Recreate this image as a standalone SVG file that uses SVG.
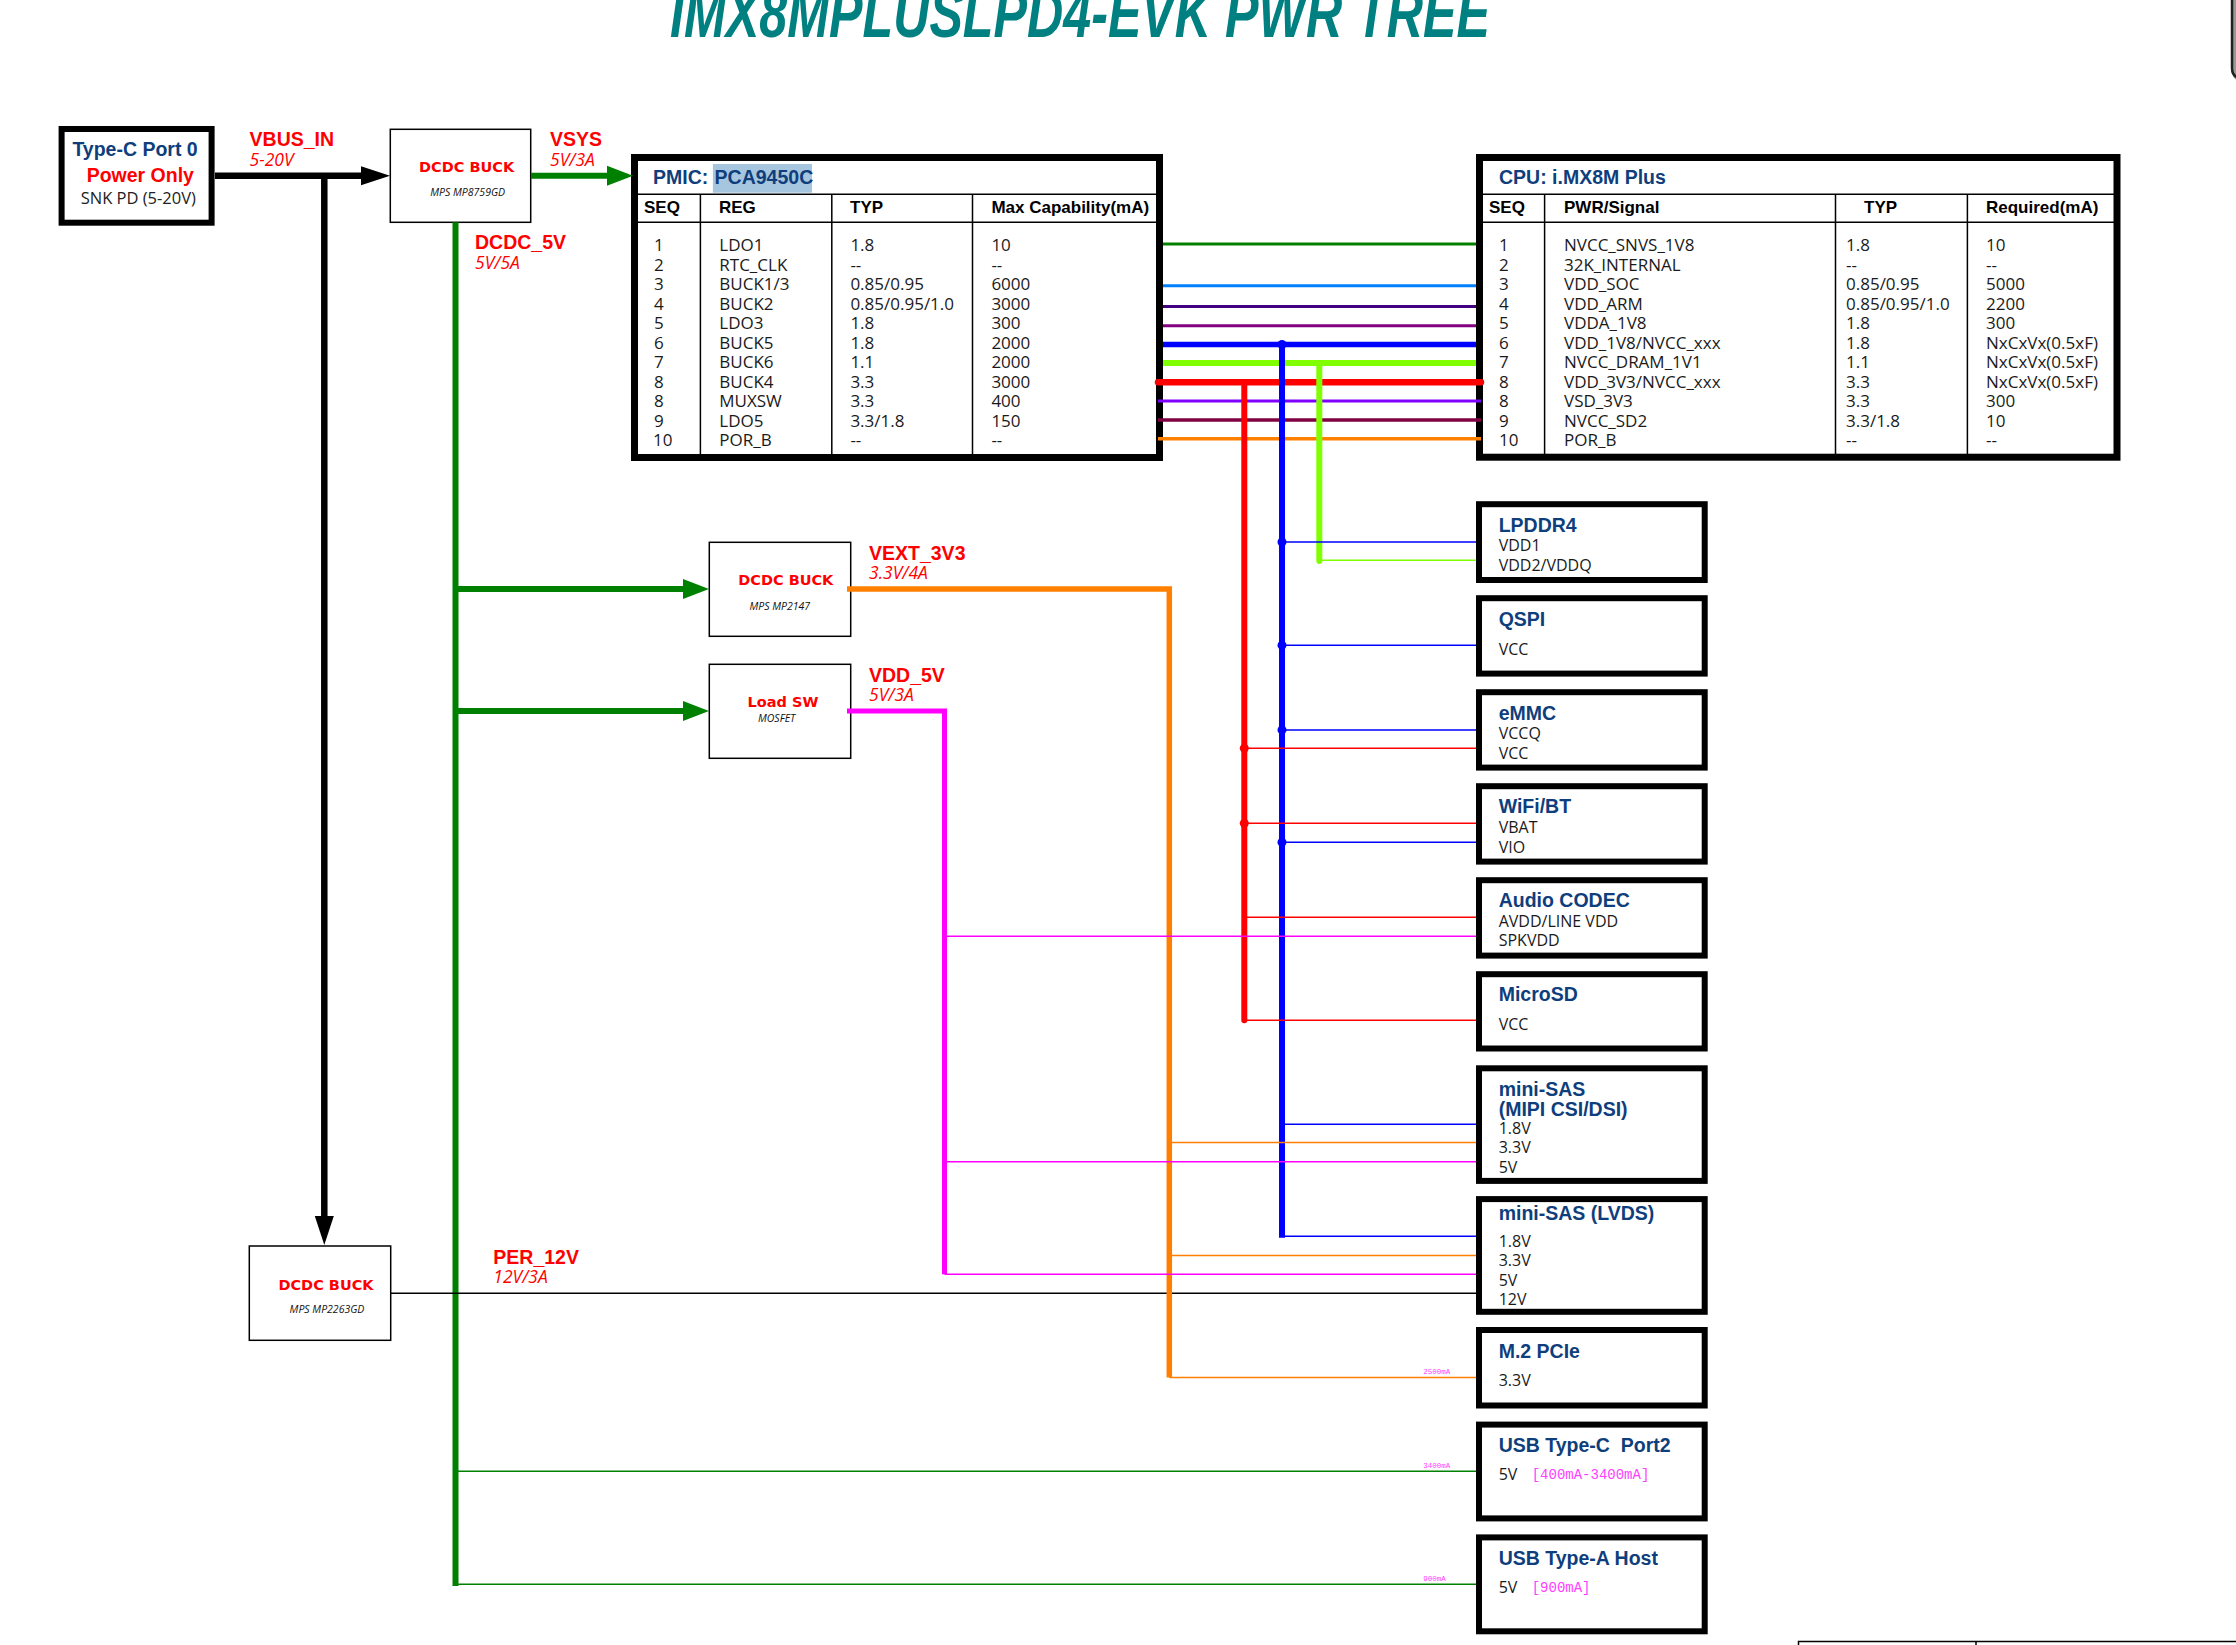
<svg xmlns="http://www.w3.org/2000/svg" width="2236" height="1645" viewBox="0 0 2236 1645">
<style>
.ttl{font-family:"Liberation Sans",Arial,sans-serif;font-weight:bold;font-size:19.5px;fill:#0f3e7c}
.lbl{font-family:"Liberation Sans",Arial,sans-serif;font-weight:bold;font-size:19.5px;fill:#ff0000}
.sub{font-family:"Open Sans",sans-serif;font-style:italic;font-size:17.5px;fill:#ff0000}
.body{font-family:"Open Sans",sans-serif;font-size:17px;fill:#1a1a1a}
.sig{font-family:"Open Sans",sans-serif;font-size:16px;fill:#1a1a1a}
.hdr{font-family:"Liberation Sans",Arial,sans-serif;font-weight:bold;font-size:17px;fill:#000}
.bxr{font-family:"DejaVu Sans",sans-serif;font-weight:bold;font-size:14.5px;fill:#ff0000;text-anchor:middle}
.bxi{font-family:"Open Sans",sans-serif;font-style:italic;font-size:10.5px;fill:#111;text-anchor:middle}
.mono{font-family:"Liberation Mono",monospace;font-size:14px;fill:#ff40ff}
.tiny{font-family:"Liberation Mono",monospace;font-size:7.5px;fill:#ff40ff}
.thick{fill:#fff;stroke:#000;stroke-width:6}
.thick7{fill:#fff;stroke:#000;stroke-width:7}
.thin{fill:#fff;stroke:#000;stroke-width:1.5}
.grid{fill:none;stroke:#000;stroke-width:1.5}
.br{fill:none;stroke-width:1.5}
</style>
<defs>
<marker id="ahK" markerUnits="userSpaceOnUse" markerWidth="30" markerHeight="22" refX="0" refY="11" orient="auto" viewBox="0 0 30 22"><path d="M0,1.5 L29,11 L0,20.5 z" fill="#000"/></marker>
<marker id="ahG" markerUnits="userSpaceOnUse" markerWidth="28" markerHeight="22" refX="0" refY="11" orient="auto" viewBox="0 0 28 22"><path d="M0,1 L26,11 L0,21 z" fill="#008000"/></marker>
</defs>

<text x="1080" y="37" text-anchor="middle" textLength="820" lengthAdjust="spacingAndGlyphs" font-family="Liberation Sans, Arial, sans-serif" font-weight="bold" font-style="italic" font-size="68" fill="#008080">IMX8MPLUSLPD4-EVK PWR TREE</text>
<path d="M2234,0 V68 Q2234,80 2246,80" fill="none" stroke="#999" stroke-width="5"/>
<path d="M2232,0 V68 Q2232,78 2242,78" fill="none" stroke="#222" stroke-width="2.5"/>
<path d="M1798.5,1645 V1641.4 H2236 M1976,1641.4 V1645" fill="none" stroke="#000" stroke-width="1.5"/>

<g id="typec">
<rect x="61.6" y="129" width="150" height="93.7" class="thick"/>
<text x="72.4" y="155.7" class="ttl">Type-C Port 0</text>
<text x="86.7" y="181.7" class="lbl">Power Only</text>
<text x="80.7" y="204.3" font-family="Open Sans, sans-serif" font-size="16.5" fill="#222">SNK PD (5-20V)</text>
</g>

<g id="buck_mp8759">
<rect x="390.3" y="129.3" width="140.4" height="93" class="thin"/>
<text x="466.6" y="172" class="bxr">DCDC BUCK</text>
<text x="467.7" y="196" class="bxi">MPS MP8759GD</text>
</g>

<g id="buck_mp2147">
<rect x="709.3" y="542.3" width="141.4" height="94" class="thin"/>
<text x="785.8" y="585" class="bxr">DCDC BUCK</text>
<text x="779.8" y="610" class="bxi">MPS MP2147</text>
</g>

<g id="loadsw">
<rect x="709.3" y="664.3" width="141.4" height="94" class="thin"/>
<text x="783" y="706.7" class="bxr">Load SW</text>
<text x="776.7" y="722.3" class="bxi">MOSFET</text>
</g>

<g id="buck_mp2263">
<rect x="249.3" y="1246" width="141.4" height="94.3" class="thin"/>
<text x="326" y="1290" class="bxr">DCDC BUCK</text>
<text x="327" y="1313.3" class="bxi">MPS MP2263GD</text>
</g>

<g id="pmic">
<rect x="634.5" y="157.5" width="525" height="300" class="thick7"/>
<rect x="712.9" y="164" width="99.1" height="28.7" fill="#a6c6df"/>
<text x="653" y="184.3" class="ttl">PMIC:</text>
<text x="714.6" y="184.3" class="ttl">PCA9450C</text>
<path d="M638,194.3 H1156 M638,222.3 H1156 M700.4,194.3 V457 M831.8,194.3 V457 M972.5,194.3 V457" class="grid"/>
<text y="212.7" class="hdr"><tspan x="644">SEQ</tspan><tspan x="719">REG</tspan><tspan x="850">TYP</tspan><tspan x="991.4">Max Capability(mA)</tspan></text>
<text class="body"><tspan x="654" y="251">1</tspan><tspan x="654" y="270.5">2</tspan><tspan x="654" y="290">3</tspan><tspan x="654" y="309.5">4</tspan><tspan x="654" y="329">5</tspan><tspan x="654" y="348.5">6</tspan><tspan x="654" y="368">7</tspan><tspan x="654" y="387.5">8</tspan><tspan x="654" y="407">8</tspan><tspan x="654" y="426.5">9</tspan><tspan x="653" y="446">10</tspan></text>
<text class="body"><tspan x="719.3" y="251">LDO1</tspan><tspan x="719.3" y="270.5">RTC_CLK</tspan><tspan x="719.3" y="290">BUCK1/3</tspan><tspan x="719.3" y="309.5">BUCK2</tspan><tspan x="719.3" y="329">LDO3</tspan><tspan x="719.3" y="348.5">BUCK5</tspan><tspan x="719.3" y="368">BUCK6</tspan><tspan x="719.3" y="387.5">BUCK4</tspan><tspan x="719.3" y="407">MUXSW</tspan><tspan x="719.3" y="426.5">LDO5</tspan><tspan x="719.3" y="446">POR_B</tspan></text>
<text class="body"><tspan x="850.4" y="251">1.8</tspan><tspan x="850.4" y="270.5">--</tspan><tspan x="850.4" y="290">0.85/0.95</tspan><tspan x="850.4" y="309.5">0.85/0.95/1.0</tspan><tspan x="850.4" y="329">1.8</tspan><tspan x="850.4" y="348.5">1.8</tspan><tspan x="850.4" y="368">1.1</tspan><tspan x="850.4" y="387.5">3.3</tspan><tspan x="850.4" y="407">3.3</tspan><tspan x="850.4" y="426.5">3.3/1.8</tspan><tspan x="850.4" y="446">--</tspan></text>
<text class="body"><tspan x="991.4" y="251">10</tspan><tspan x="991.4" y="270.5">--</tspan><tspan x="991.4" y="290">6000</tspan><tspan x="991.4" y="309.5">3000</tspan><tspan x="991.4" y="329">300</tspan><tspan x="991.4" y="348.5">2000</tspan><tspan x="991.4" y="368">2000</tspan><tspan x="991.4" y="387.5">3000</tspan><tspan x="991.4" y="407">400</tspan><tspan x="991.4" y="426.5">150</tspan><tspan x="991.4" y="446">--</tspan></text>
</g>

<g id="cpu">
<rect x="1479.5" y="157.5" width="637.5" height="299.7" class="thick7"/>
<text x="1499" y="184.3" class="ttl">CPU: i.MX8M Plus</text>
<path d="M1483,194.3 H2117 M1483,222.3 H2117 M1544.6,194.3 V457 M1835.5,194.3 V457 M1967.4,194.3 V457" class="grid"/>
<text y="212.7" class="hdr"><tspan x="1489">SEQ</tspan><tspan x="1564">PWR/Signal</tspan><tspan x="1864">TYP</tspan><tspan x="1986">Required(mA)</tspan></text>
<text class="body"><tspan x="1499" y="251">1</tspan><tspan x="1499" y="270.5">2</tspan><tspan x="1499" y="290">3</tspan><tspan x="1499" y="309.5">4</tspan><tspan x="1499" y="329">5</tspan><tspan x="1499" y="348.5">6</tspan><tspan x="1499" y="368">7</tspan><tspan x="1499" y="387.5">8</tspan><tspan x="1499" y="407">8</tspan><tspan x="1499" y="426.5">9</tspan><tspan x="1499" y="446">10</tspan></text>
<text class="body"><tspan x="1564" y="251">NVCC_SNVS_1V8</tspan><tspan x="1564" y="270.5">32K_INTERNAL</tspan><tspan x="1564" y="290">VDD_SOC</tspan><tspan x="1564" y="309.5">VDD_ARM</tspan><tspan x="1564" y="329">VDDA_1V8</tspan><tspan x="1564" y="348.5">VDD_1V8/NVCC_xxx</tspan><tspan x="1564" y="368">NVCC_DRAM_1V1</tspan><tspan x="1564" y="387.5">VDD_3V3/NVCC_xxx</tspan><tspan x="1564" y="407">VSD_3V3</tspan><tspan x="1564" y="426.5">NVCC_SD2</tspan><tspan x="1564" y="446">POR_B</tspan></text>
<text class="body"><tspan x="1846" y="251">1.8</tspan><tspan x="1846" y="270.5">--</tspan><tspan x="1846" y="290">0.85/0.95</tspan><tspan x="1846" y="309.5">0.85/0.95/1.0</tspan><tspan x="1846" y="329">1.8</tspan><tspan x="1846" y="348.5">1.8</tspan><tspan x="1846" y="368">1.1</tspan><tspan x="1846" y="387.5">3.3</tspan><tspan x="1846" y="407">3.3</tspan><tspan x="1846" y="426.5">3.3/1.8</tspan><tspan x="1846" y="446">--</tspan></text>
<text class="body"><tspan x="1986" y="251">10</tspan><tspan x="1986" y="270.5">--</tspan><tspan x="1986" y="290">5000</tspan><tspan x="1986" y="309.5">2200</tspan><tspan x="1986" y="329">300</tspan><tspan x="1986" y="348.5">NxCxVx(0.5xF)</tspan><tspan x="1986" y="368">NxCxVx(0.5xF)</tspan><tspan x="1986" y="387.5">NxCxVx(0.5xF)</tspan><tspan x="1986" y="407">300</tspan><tspan x="1986" y="426.5">10</tspan><tspan x="1986" y="446">--</tspan></text>
</g>

<g id="lpddr4">
<rect x="1479" y="504.2" width="225.7" height="75.8" class="thick"/>
<text x="1498.7" y="532" class="ttl">LPDDR4</text>
<text class="sig"><tspan x="1498.7" y="550.7">VDD1</tspan><tspan x="1498.7" y="570.7">VDD2/VDDQ</tspan></text>
</g>
<g id="qspi">
<rect x="1479" y="598.2" width="225.7" height="75.4" class="thick"/>
<text x="1498.7" y="625.7" class="ttl">QSPI</text>
<text x="1498.7" y="654.9" class="sig">VCC</text>
</g>
<g id="emmc">
<rect x="1479" y="692.2" width="225.7" height="75.4" class="thick"/>
<text x="1498.7" y="719.7" class="ttl">eMMC</text>
<text class="sig"><tspan x="1498.7" y="739">VCCQ</tspan><tspan x="1498.7" y="759">VCC</tspan></text>
</g>
<g id="wifibt">
<rect x="1479" y="786.2" width="225.7" height="75.4" class="thick"/>
<text x="1498.7" y="813.4" class="ttl">WiFi/BT</text>
<text class="sig"><tspan x="1498.7" y="833">VBAT</tspan><tspan x="1498.7" y="853">VIO</tspan></text>
</g>
<g id="audio">
<rect x="1479" y="880.2" width="225.7" height="75.4" class="thick"/>
<text x="1498.7" y="907.4" class="ttl">Audio CODEC</text>
<text class="sig"><tspan x="1498.7" y="926.7">AVDD/LINE VDD</tspan><tspan x="1498.7" y="946">SPKVDD</tspan></text>
</g>
<g id="microsd">
<rect x="1479" y="974.2" width="225.7" height="74.3" class="thick"/>
<text x="1498.7" y="1001" class="ttl">MicroSD</text>
<text x="1498.7" y="1030" class="sig">VCC</text>
</g>
<g id="minisas_mipi">
<rect x="1479" y="1068.3" width="225.7" height="112.6" class="thick"/>
<text class="ttl"><tspan x="1498.7" y="1095.5">mini-SAS</tspan><tspan x="1498.7" y="1115.5">(MIPI CSI/DSI)</tspan></text>
<text class="sig"><tspan x="1498.7" y="1133.5">1.8V</tspan><tspan x="1498.7" y="1153">3.3V</tspan><tspan x="1498.7" y="1172.8">5V</tspan></text>
</g>
<g id="minisas_lvds">
<rect x="1479" y="1199.1" width="225.7" height="112.7" class="thick"/>
<text x="1498.7" y="1219.9" class="ttl">mini-SAS (LVDS)</text>
<text class="sig"><tspan x="1498.7" y="1246.7">1.8V</tspan><tspan x="1498.7" y="1266.3">3.3V</tspan><tspan x="1498.7" y="1285.5">5V</tspan><tspan x="1498.7" y="1305">12V</tspan></text>
</g>
<g id="m2pcie">
<rect x="1479" y="1330" width="225.7" height="75.5" class="thick"/>
<text x="1498.7" y="1357.6" class="ttl">M.2 PCIe</text>
<text x="1498.7" y="1386.3" class="sig">3.3V</text>
</g>
<g id="usbc2">
<rect x="1479" y="1424.6" width="225.7" height="93.8" class="thick"/>
<text x="1498.7" y="1452.2" class="ttl" xml:space="preserve">USB Type-C  Port2</text>
<text x="1498.7" y="1480" class="sig">5V</text>
<text x="1531.7" y="1479" class="mono">[400mA-3400mA]</text>
</g>
<g id="usba">
<rect x="1479" y="1537.4" width="225.7" height="93.9" class="thick"/>
<text x="1498.7" y="1565" class="ttl">USB Type-A Host</text>
<text x="1498.7" y="1592.6" class="sig">5V</text>
<text x="1531.7" y="1591.6" class="mono">[900mA]</text>
</g>

<g id="connectors">
<path d="M215,175.7 H361" fill="none" stroke="#000" stroke-width="6.5" marker-end="url(#ahK)"/>
<path d="M324.3,175.7 V1216" fill="none" stroke="#000" stroke-width="6.5" marker-end="url(#ahK)"/>
<path d="M531,175.7 H607" fill="none" stroke="#008000" stroke-width="6" marker-end="url(#ahG)"/>
<path d="M455.5,222.3 V1586" fill="none" stroke="#008000" stroke-width="6"/>
<path d="M455.5,589 H683" fill="none" stroke="#008000" stroke-width="6" marker-end="url(#ahG)"/>
<path d="M455.5,711 H683" fill="none" stroke="#008000" stroke-width="6" marker-end="url(#ahG)"/>
<path d="M455.5,1471.3 H1476 M455.5,1584.3 H1476" class="br" stroke="#008000"/>
<path d="M390.7,1293.3 H1476" class="br" stroke="#000"/>

<path d="M1163,244 H1476" fill="none" stroke="#008000" stroke-width="3"/>
<path d="M1163,285.7 H1476" fill="none" stroke="#0080ff" stroke-width="3"/>
<path d="M1163,306.5 H1476" fill="none" stroke="#400080" stroke-width="3"/>
<path d="M1163,325.7 H1476" fill="none" stroke="#800080" stroke-width="3"/>
<path d="M1163,344.5 H1476" fill="none" stroke="#0000ff" stroke-width="5.5"/>
<path d="M1163,363 H1476" fill="none" stroke="#80ff00" stroke-width="6"/>
<path d="M1158,382.3 H1481" fill="none" stroke="#ff0000" stroke-width="6.5" stroke-linecap="round"/>
<path d="M1158,401 H1481" fill="none" stroke="#8000ff" stroke-width="3"/>
<path d="M1158,420 H1481" fill="none" stroke="#800040" stroke-width="3.5"/>
<path d="M1158,438.7 H1481" fill="none" stroke="#ff8000" stroke-width="3.5"/>

<path d="M847,589 H1169.3 V1377.5" fill="none" stroke="#ff8000" stroke-width="5.5"/>
<path d="M847,711 H944.5 V1274.2" fill="none" stroke="#ff00ff" stroke-width="5"/>
<path d="M1244.3,382 V1020.3" fill="none" stroke="#ff0000" stroke-width="6" stroke-linecap="round"/>
<path d="M1282,344.5 V1237.7" fill="none" stroke="#0000ff" stroke-width="6"/>
<path d="M1319.3,363 V561" fill="none" stroke="#80ff00" stroke-width="6" stroke-linecap="round"/>

<path d="M1282,542 H1476 M1282,645.3 H1476 M1282,729.9 H1476 M1282,842.3 H1476 M1282,1124.3 H1476 M1282,1236.3 H1476" class="br" stroke="#0000ff"/>
<path d="M1319.3,560.3 H1476" class="br" stroke="#80ff00"/>
<path d="M1244.3,748.3 H1476 M1244.3,823.3 H1476 M1244.3,917.3 H1476 M1244.3,1020.3 H1476" class="br" stroke="#ff0000"/>
<path d="M944.5,936.3 H1476 M944.5,1161.7 H1476 M944.5,1274.2 H1476" class="br" stroke="#ff00ff"/>
<path d="M1169.3,1142.6 H1476 M1169.3,1255.5 H1476 M1169.3,1377.5 H1476" class="br" stroke="#ff8000"/>

<g fill="#0000ff">
<circle cx="1282" cy="344.5" r="4.5"/><circle cx="1282" cy="542" r="4.5"/><circle cx="1282" cy="645.3" r="4.5"/><circle cx="1282" cy="729.9" r="4.5"/><circle cx="1282" cy="842.3" r="4.5"/>
</g>
<g fill="#ff0000">
<circle cx="1244.3" cy="748.3" r="4.5"/><circle cx="1244.3" cy="823.3" r="4.5"/>
</g>

<text x="249.6" y="146" class="lbl">VBUS_IN</text>
<text x="249.6" y="166" class="sub">5-20V</text>
<text x="550" y="146" class="lbl">VSYS</text>
<text x="550" y="166" class="sub">5V/3A</text>
<text x="475" y="249.3" class="lbl">DCDC_5V</text>
<text x="475" y="269.3" class="sub">5V/5A</text>
<text x="869" y="560" class="lbl">VEXT_3V3</text>
<text x="869" y="579" class="sub">3.3V/4A</text>
<text x="869" y="682.3" class="lbl">VDD_5V</text>
<text x="869" y="701" class="sub">5V/3A</text>
<text x="493.3" y="1264.3" class="lbl">PER_12V</text>
<text x="493.3" y="1283.3" class="sub">12V/3A</text>
<text x="1423.3" y="1374.3" class="tiny">2500mA</text>
<text x="1423.3" y="1468.3" class="tiny">3400mA</text>
<text x="1423.3" y="1580.5" class="tiny">900mA</text>
</g>
</svg>
